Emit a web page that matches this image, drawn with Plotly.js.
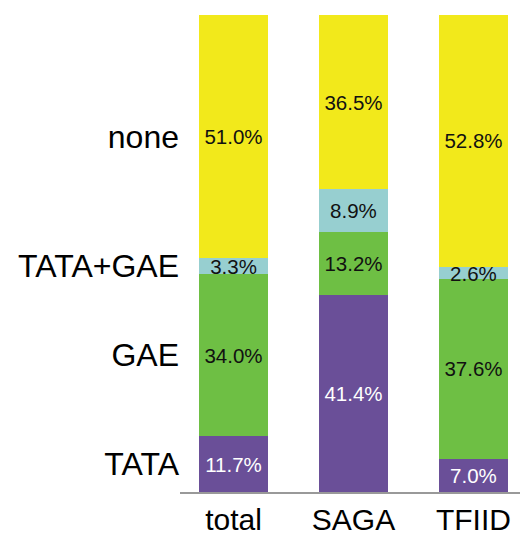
<!DOCTYPE html>
<html>
<head>
<meta charset="utf-8">
<script src="https://cdn.plot.ly/plotly-3.0.1.min.js"></script>
<style>html,body{margin:0;padding:0;background:#fff}#chart{width:520px;height:533px}</style>
</head>
<body>
<div id="chart"></div>
<script>
const categories = ["total", "SAGA", "TFIID"];
const seriesNames = ["TATA", "GAE", "TATA+GAE", "none"];
const tata = [11.7, 41.4, 7.0];
const gae = [34.0, 13.2, 37.6];
const tataGae = [3.3, 8.9, 2.6];
const none = [51.0, 36.5, 52.8];
const colors = ["#6a4f98", "#6ebf44", "#97cfd0", "#f2e91b"];
const textColors = ["#ffffff", "#111111", "#111111", "#111111"];

const seriesValues = [tata, gae, tataGae, none];
const font = "Liberation Sans, Arial, Helvetica, sans-serif";

const traces = seriesValues.map((vals, i) => ({
  type: "bar",
  name: seriesNames[i],
  x: categories,
  y: vals,
  width: 0.57,
  marker: {color: colors[i], line: {width: 0}},
  texttemplate: "%{y:.1f}%",
  textposition: "inside",
  insidetextanchor: "middle",
  constraintext: "none",
  textangle: 0,
  textfont: {family: font, size: 20.5, color: textColors[i]},
  hoverinfo: "skip"
}));

// left labels placed at the middle of each segment of the "total" bar
const tickvals = [];
let cum = 0;
seriesValues.forEach(vals => {
  tickvals.push(cum + vals[0] / 2);
  cum += vals[0];
});

const layout = {
  width: 520,
  height: 533,
  margin: {l: 180, r: 0, t: 15, b: 41},
  barmode: "stack",
  showlegend: false,
  paper_bgcolor: "#ffffff",
  plot_bgcolor: "#ffffff",
  xaxis: {
    type: "category",
    range: [-0.446, 2.388],
    showline: true,
    linecolor: "#999999",
    linewidth: 2,
    ticks: "",
    showgrid: false,
    zeroline: false,
    tickfont: {family: font, size: 30, color: "#000000"}
  },
  yaxis: {
    range: [0, 100],
    showline: false,
    showgrid: false,
    zeroline: false,
    ticks: "",
    tickvals: tickvals,
    ticktext: seriesNames,
    tickfont: {family: font, size: 32, color: "#000000"}
  }
};

Plotly.newPlot("chart", traces, layout, {staticPlot: true, displayModeBar: false});
</script>
</body>
</html>
